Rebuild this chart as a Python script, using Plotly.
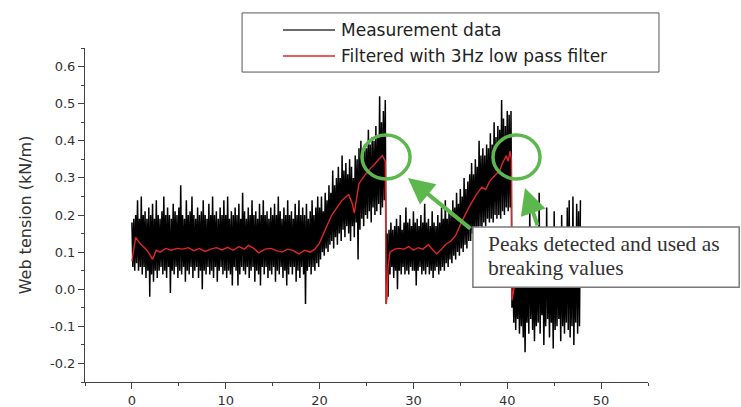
import numpy as np
import plotly.graph_objects as go

# ---------------------------------------------------------------- data
sample_step = 0.1   # s between stored measurement samples
meas_start = 0.0    # s

# Web tension measurement (kN/m), first run 0.0 - 27.0 s
meas_run1 = [
    0.18, 0.06, 0.19, 0.05, 0.20, 0.07, 0.24, 0.05, 0.19, 0.06,
    0.25, 0.04, 0.20, 0.06, 0.21, 0.03, 0.19, 0.05, 0.22, -0.02,
    0.20, 0.04, 0.23, 0.02, 0.19, 0.05, 0.24, 0.03, 0.20, 0.05,
    0.19, 0.06, 0.21, 0.04, 0.25, 0.05, 0.20, 0.03, 0.22, 0.06,
    0.20, -0.01, 0.19, 0.05, 0.23, 0.04, 0.21, 0.06, 0.20, 0.03,
    0.22, 0.05, 0.28, 0.04, 0.20, 0.06, 0.19, 0.02, 0.24, 0.05,
    0.20, 0.04, 0.21, 0.06, 0.25, 0.03, 0.20, 0.05, 0.19, 0.06,
    0.22, 0.03, 0.20, 0.05, 0.21, 0.00, 0.24, 0.05, 0.20, 0.04,
    0.19, 0.06, 0.23, 0.04, 0.20, 0.05, 0.25, 0.03, 0.20, 0.06,
    0.21, 0.02, 0.19, 0.05, 0.22, 0.06, 0.20, 0.04, 0.24, 0.05,
    0.20, 0.03, 0.25, 0.05, 0.19, 0.04, 0.21, 0.01, 0.20, 0.06,
    0.22, 0.05, 0.20, 0.01, 0.23, 0.04, 0.19, 0.06, 0.26, 0.05,
    0.21, 0.04, 0.19, 0.06, 0.22, 0.03, 0.20, 0.05, 0.24, 0.06,
    0.20, 0.02, 0.21, 0.05, 0.19, 0.04, 0.23, 0.01, 0.20, 0.06,
    0.24, 0.04, 0.20, 0.06, 0.21, 0.03, 0.19, 0.05, 0.22, 0.04,
    0.20, 0.06, 0.23, 0.02, 0.20, 0.05, 0.25, 0.04, 0.21, 0.06,
    0.19, 0.03, 0.22, 0.05, 0.20, 0.01, 0.24, 0.04, 0.20, 0.06,
    0.21, 0.04, 0.19, 0.06, 0.23, 0.02, 0.20, 0.05, 0.24, 0.03,
    0.20, 0.06, 0.22, 0.04, 0.20, -0.04, 0.23, 0.05, 0.19, 0.06,
    0.21, 0.04, 0.24, 0.06, 0.20, 0.05, 0.22, 0.07, 0.25, 0.06,
    0.22, 0.08, 0.25, 0.10, 0.21, 0.09, 0.26, 0.11, 0.24, 0.10,
    0.28, 0.12, 0.26, 0.13, 0.32, 0.11, 0.28, 0.14, 0.30, 0.12,
    0.33, 0.15, 0.30, 0.13, 0.36, 0.16, 0.32, 0.14, 0.34, 0.17,
    0.31, 0.15, 0.35, 0.13, 0.33, 0.17, 0.30, 0.14, 0.36, 0.18,
    0.35, 0.08, 0.38, 0.16, 0.40, 0.19, 0.36, 0.17, 0.39, 0.20,
    0.38, 0.19, 0.43, 0.21, 0.39, 0.18, 0.41, 0.22, 0.40, 0.20,
    0.44, 0.21, 0.41, 0.23, 0.52, 0.20, 0.45, 0.22, 0.48, 0.24,
    0.51,
]
# second run 27.1 - 40.4 s
meas_run2 = [
    -0.04, 0.15, -0.02, 0.16, 0.04, 0.18, 0.06, 0.16, 0.03, 0.17,
    0.05, 0.19, 0.00, 0.17, 0.05, 0.20, 0.04, 0.16, 0.06, 0.18,
    0.04, 0.22, 0.05, 0.18, 0.04, 0.19, 0.06, 0.17, 0.05, 0.21,
    0.05, 0.18, 0.01, 0.19, 0.05, 0.17, 0.06, 0.20, 0.04, 0.18,
    0.05, 0.23, 0.04, 0.18, 0.06, 0.19, 0.04, 0.17, 0.05, 0.21,
    0.03, 0.18, 0.05, 0.17, 0.06, 0.20, 0.04, 0.18, 0.05, 0.22,
    0.06, 0.19, 0.05, 0.24, 0.07, 0.19, 0.06, 0.21, 0.08, 0.20,
    0.07, 0.24, 0.09, 0.22, 0.08, 0.26, 0.10, 0.23, 0.09, 0.27,
    0.11, 0.25, 0.10, 0.30, 0.12, 0.27, 0.11, 0.29, 0.13, 0.31,
    0.13, 0.34, 0.15, 0.31, 0.14, 0.35, 0.16, 0.33, 0.15, 0.40,
    0.17, 0.36, 0.16, 0.38, 0.18, 0.36, 0.17, 0.39, 0.19, 0.38,
    0.18, 0.42, 0.19, 0.39, 0.18, 0.45, 0.20, 0.41, 0.19, 0.44,
    0.20, 0.43, 0.19, 0.51, 0.21, 0.46, 0.20, 0.44, 0.22, 0.48,
    0.21, 0.47, 0.22, 0.48,
]
# after the second break 40.5 - 47.8 s
meas_run3 = [
    -0.05, 0.03, -0.09, 0.06, -0.11, 0.04, -0.08, 0.09, -0.12, 0.07,
    -0.10, 0.08, -0.13, 0.05, -0.17, 0.10, -0.09, 0.06, -0.12, 0.21,
    -0.08, 0.09, -0.11, 0.12, -0.14, 0.07, -0.10, 0.11, -0.09, 0.26,
    -0.12, 0.08, -0.07, 0.10, -0.15, 0.06, -0.10, 0.22, -0.08, 0.09,
    -0.13, 0.11, -0.09, 0.07, -0.16, 0.21, -0.11, 0.08, -0.10, 0.12,
    -0.08, 0.09, -0.14, 0.20, -0.10, 0.06, -0.12, 0.10, -0.09, 0.22,
    -0.11, 0.24, -0.13, 0.08, -0.10, 0.25, -0.15, 0.11, -0.09, 0.23,
    -0.12, 0.21, -0.10, 0.24,
]

# 3 Hz low-pass filtered tension
filt_time = [
    0.0, 0.4, 0.8, 1.2, 1.6, 2.0, 2.2, 2.6, 3.0, 3.6,
    4.2, 4.8, 5.4, 6.0, 6.6, 7.2, 7.8, 8.4, 9.0, 9.6,
    10.2, 10.8, 11.4, 12.0, 12.4, 13.0, 13.5, 14.2, 14.8, 15.4,
    16.0, 16.6, 17.2, 17.8, 18.4, 19.0, 19.5, 20.0, 20.6, 21.3,
    22.0, 22.4, 23.1, 23.5, 23.7, 24.2, 24.9, 25.4, 25.8, 26.3,
    26.7, 27.0, 27.1, 27.2, 27.3, 27.5, 28.0, 28.4, 29.0, 29.5,
    30.0, 30.5, 31.0, 31.6, 32.1, 32.5, 33.0, 33.4, 34.0, 34.5,
    35.2, 35.9, 36.7, 37.3, 37.7, 38.1, 38.8, 39.2, 39.5, 39.9,
    40.1, 40.3, 40.45, 40.5, 40.7, 41.0, 41.8, 42.6, 43.4, 44.2,
    45.0, 45.8, 46.6, 47.4, 47.8,
]
filt_value = [
    0.075, 0.140, 0.125, 0.115, 0.105, 0.090, 0.080, 0.105, 0.100, 0.110,
    0.105, 0.110, 0.108, 0.112, 0.104, 0.110, 0.102, 0.108, 0.112, 0.106,
    0.113, 0.105, 0.115, 0.108, 0.118, 0.110, 0.098, 0.108, 0.110, 0.104,
    0.100, 0.108, 0.104, 0.095, 0.105, 0.100, 0.108, 0.125, 0.160, 0.200,
    0.225, 0.240, 0.255, 0.230, 0.205, 0.285, 0.310, 0.325, 0.335, 0.350,
    0.360, 0.345, -0.040, -0.020, 0.060, 0.100, 0.108, 0.110, 0.108, 0.115,
    0.105, 0.112, 0.108, 0.120, 0.105, 0.095, 0.108, 0.120, 0.130, 0.145,
    0.185, 0.220, 0.255, 0.275, 0.268, 0.290, 0.310, 0.320, 0.340, 0.360,
    0.345, 0.372, 0.350, -0.030, 0.000, 0.025, 0.030, 0.028, 0.032, 0.027,
    0.030, 0.026, 0.031, 0.028, 0.030,
]

x_tick_vals = [0, 10, 20, 30, 40, 50]
x_tick_text = ["0", "10", "20", "30", "40", "50"]
y_tick_vals = [-0.2, -0.1, 0.0, 0.1, 0.2, 0.3, 0.4, 0.5, 0.6]
y_tick_text = ["-0.2", "-0.1", "0.0", "0.1", "0.2", "0.3", "0.4", "0.5", "0.6"]

series_names = ["Measurement data", "Filtered with 3Hz low pass filter"]
y_title = "Web tension (kN/m)"
note_lines = ["Peaks detected and used as", "breaking values"]

# ---------------------------------------------------------------- figure
meas_value = meas_run1 + meas_run2 + meas_run3
meas_time = meas_start + sample_step * np.arange(len(meas_value))

BLACK = "#000000"
RED = "#e0262a"
GREEN = "#5cb84c"
AXIS = "#444444"
SANS = "DejaVu Sans, Verdana, sans-serif"
SERIF = "Liberation Serif, Times New Roman, serif"

fig = go.Figure()
fig.add_trace(go.Scatter(
    x=meas_time, y=meas_value, mode="lines", name=series_names[0],
    line=dict(color=BLACK, width=1.5, simplify=False), showlegend=False,
))
fig.add_trace(go.Scatter(
    x=filt_time, y=filt_value, mode="lines", name=series_names[1],
    line=dict(color=RED, width=1.4, simplify=False), showlegend=False,
))

axis_font = dict(family=SANS, size=13, color="#333333")
fig.update_xaxes(
    range=[-5, 55], tickmode="array", tickvals=x_tick_vals, ticktext=x_tick_text,
    ticks="outside", ticklen=6, tickwidth=1, tickcolor=AXIS,
    minor=dict(tickmode="linear", tick0=0, dtick=5, ticks="outside",
               ticklen=3, tickcolor=AXIS, showgrid=False),
    showline=True, linecolor=AXIS, linewidth=1, showgrid=False, zeroline=False,
    tickfont=axis_font,
)
fig.update_yaxes(
    range=[-0.25, 0.65], tickmode="array", tickvals=y_tick_vals, ticktext=y_tick_text,
    ticks="outside", ticklen=6, tickwidth=1, tickcolor=AXIS,
    minor=dict(tickmode="linear", tick0=0, dtick=0.05, ticks="outside",
               ticklen=3, tickcolor=AXIS, showgrid=False),
    showline=True, linecolor=AXIS, linewidth=1, showgrid=False, zeroline=False,
    tickfont=axis_font,
    title=dict(text=y_title, font=dict(family=SANS, size=16, color="#333333"),
               standoff=14),
)

shapes = []
annotations = []

# legend box
shapes.append(dict(type="rect", xref="paper", yref="paper",
                   x0=0.279, x1=1.0195, y0=0.928, y1=1.105,
                   line=dict(color="#555555", width=1), fillcolor="white",
                   layer="above"))
for i, (yy, col) in enumerate([(1.054, "#3a3a3a"), (0.976, RED)]):
    shapes.append(dict(type="line", xref="paper", yref="paper",
                       x0=0.3517, x1=0.4441, y0=yy, y1=yy,
                       line=dict(color=col, width=1.4), layer="above"))
    annotations.append(dict(xref="paper", yref="paper", x=0.452, y=yy,
                            xanchor="left", yanchor="middle", showarrow=False,
                            text=series_names[i],
                            font=dict(family=SANS, size=17, color="#222222")))

# green rings around the detected peaks
for t0, t1 in [(24.52, 29.64), (38.48, 43.49)]:
    shapes.append(dict(type="circle", xref="x", yref="y",
                       x0=t0, x1=t1, y0=0.297, y1=0.4156,
                       line=dict(color=GREEN, width=3.5), layer="above"))

# call-out box
shapes.append(dict(type="rect", xref="paper", yref="paper",
                   x0=0.689, x1=1.162, y0=0.284, y1=0.464,
                   line=dict(color="#7a7a7a", width=1.5), fillcolor="white",
                   layer="above"))
for line_text, yy in zip(note_lines, [0.412, 0.340]):
    annotations.append(dict(xref="paper", yref="paper", x=0.712, y=yy,
                            xanchor="left", yanchor="middle", align="left",
                            showarrow=False, text=line_text,
                            font=dict(family=SERIF, size=21.5, color="#333333")))

# arrows from the call-out to the rings
for tx, ty, ax, ay in [(29.42, 0.300, 64, 52), (41.89, 0.273, 13, 39)]:
    annotations.append(dict(x=tx, y=ty, xref="x", yref="y", ax=ax, ay=ay,
                            text="", showarrow=True, arrowhead=2, arrowsize=1.3,
                            arrowwidth=4, arrowcolor=GREEN, standoff=0))

fig.update_layout(
    width=741, height=407,
    margin=dict(l=85, r=93, t=48, b=25, autoexpand=False),
    paper_bgcolor="white", plot_bgcolor="white",
    shapes=shapes, annotations=annotations, showlegend=False,
)

fig.write_html("out.html")
